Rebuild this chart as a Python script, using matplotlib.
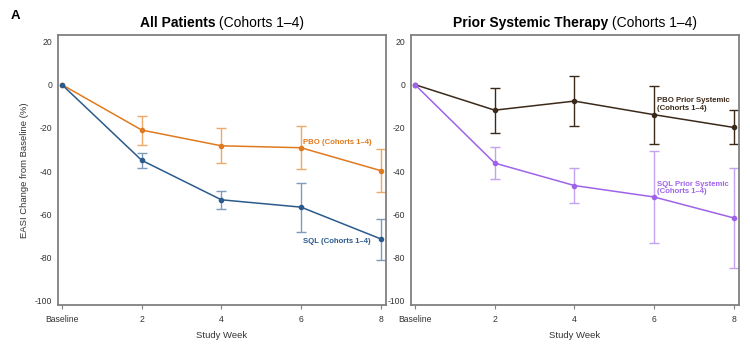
import matplotlib
matplotlib.use("Agg")
import matplotlib.pyplot as plt
import numpy as np

plt.rcParams['font.family'] = ['Liberation Sans', 'DejaVu Sans']

weeks = [0, 2, 4, 6, 8]
tick_labels = ["Baseline", "2", "4", "6", "8"]
yticks = [20, 0, -20, -40, -60, -80, -100]

# Left panel: All Patients
pbo_all = [0, -21.0, -28.3, -29.2, -39.8]
pbo_all_lo = [0, -28.0, -36.1, -39.2, -49.5]
pbo_all_hi = [0, -14.5, -20.2, -18.9, -29.8]
sql_all = [0, -35.0, -53.3, -56.7, -71.4]
sql_all_lo = [0, -38.7, -57.5, -68.0, -81.2]
sql_all_hi = [0, -31.6, -49.3, -45.3, -62.0]

# Right panel: Prior Systemic Therapy
pbo_ps = [0, -11.8, -7.6, -13.9, -19.8]
pbo_ps_lo = [0, -22.4, -18.9, -27.3, -27.6]
pbo_ps_hi = [0, -1.6, 3.8, -0.7, -11.9]
sql_ps = [0, -36.3, -46.7, -52.0, -61.7]
sql_ps_lo = [0, -43.6, -54.9, -73.4, -84.8]
sql_ps_hi = [0, -29.0, -38.4, -30.6, -38.4]

C_ORANGE = "#E07A1F"
C_BLUE = "#2A5B8C"
C_BROWN = "#3B2A1A"
C_PURPLE = "#9F63EA"

fig = plt.figure(figsize=(7.5, 3.5), dpi=100)
axL = fig.add_axes([0.0773, 0.1286, 0.4373, 0.7714])
axR = fig.add_axes([0.548, 0.1286, 0.4373, 0.7714])

def series(ax, y, lo, hi, color, ecolor):
    y = np.array(y); lo = np.array(lo); hi = np.array(hi)
    yerr = np.vstack([y - lo, hi - y])
    ax.errorbar(weeks[1:], y[1:], yerr=yerr[:, 1:], fmt='none', ecolor=ecolor,
                elinewidth=1.0, capsize=3.5, capthick=1.0, zorder=2)
    ax.plot(weeks, y, color=color, lw=1.1, marker='o', ms=3, zorder=3)

def style(ax):
    ax.set_xlim(-0.1, 8.13)
    ax.set_ylim(-102, 23)
    ax.set_xticks(weeks)
    ax.set_xticklabels(tick_labels)
    ax.set_yticks(yticks)
    ax.set_yticklabels([str(v) for v in yticks])
    for s in ax.spines.values():
        s.set_color("#808080")
        s.set_linewidth(1.3)
    ax.tick_params(axis='x', length=3, width=0.8, color="#808080", labelsize=6.2,
                   labelcolor="#333333", pad=4)
    ax.tick_params(axis='y', length=0, labelsize=6.2, labelcolor="#333333", pad=4)
    ax.set_xlabel("Study Week", fontsize=6.8, color="#333333", labelpad=5)

series(axL, pbo_all, pbo_all_lo, pbo_all_hi, C_ORANGE, "#EDA96A")
series(axL, sql_all, sql_all_lo, sql_all_hi, C_BLUE, "#7D9CBB")
style(axL)
axL.set_ylabel("EASI Change from Baseline (%)", fontsize=6.8, color="#333333", labelpad=4)
axL.text(6.05, -27, "PBO (Cohorts 1–4)", color=C_ORANGE, fontsize=5.6,
         fontweight='bold', va='center', ha='left')
axL.text(6.05, -72.5, "SQL (Cohorts 1–4)", color=C_BLUE, fontsize=5.6,
         fontweight='bold', va='center', ha='left')

series(axR, pbo_ps, pbo_ps_lo, pbo_ps_hi, C_BROWN, C_BROWN)
series(axR, sql_ps, sql_ps_lo, sql_ps_hi, C_PURPLE, "#C4A2F2")
style(axR)
axR.text(6.08, -9.2, "PBO Prior Systemic\n(Cohorts 1–4)", color=C_BROWN, fontsize=5.6,
         fontweight='bold', va='center', ha='left', linespacing=1.1)
axR.text(6.08, -47.8, "SQL Prior Systemic\n(Cohorts 1–4)", color=C_PURPLE, fontsize=5.6,
         fontweight='bold', va='center', ha='left', linespacing=1.1)

def title(ax, bold, rest, xc):
    t1 = fig.text(0, 0, bold, fontsize=10, fontweight='bold')
    t2 = fig.text(0, 0, rest, fontsize=10)
    fig.canvas.draw()
    r = fig.canvas.get_renderer()
    w1 = t1.get_window_extent(r).width / fig.bbox.width
    w2 = t2.get_window_extent(r).width / fig.bbox.width
    x0 = xc - (w1 + w2) / 2
    y = 1 - 23 / 350
    t1.set_position((x0, y)); t1.set_va('center')
    t2.set_position((x0 + w1, y)); t2.set_va('center')

title(axL, "All Patients", " (Cohorts 1–4)", 222 / 750)
title(axR, "Prior Systemic Therapy", " (Cohorts 1–4)", 575 / 750)

fig.text(15 / 750, 1 - 16 / 350, "A", fontsize=9.5, fontweight='bold', va='center', ha='center')

fig.savefig("out.png", dpi=100)
